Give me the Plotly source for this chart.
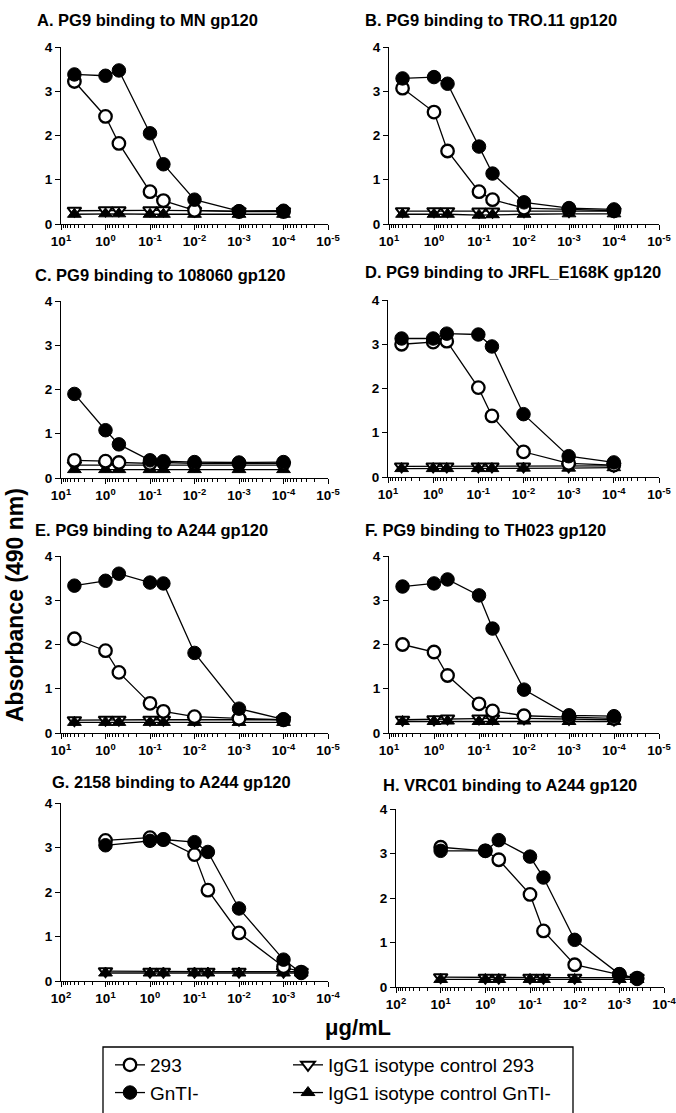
import plotly.graph_objects as go

W, H = 676, 1113

# ---- data ----
conc_AF = [5, 1, 0.5, 0.1, 0.05, 0.01, 0.001, 0.0001]
conc_GH = [10, 1, 0.5, 0.1, 0.05, 0.01, 0.001, 0.0004]

titles = [
    "A. PG9 binding to MN gp120",
    "B. PG9 binding to TRO.11 gp120",
    "C. PG9 binding to 108060 gp120",
    "D. PG9 binding to JRFL_E168K gp120",
    "E. PG9 binding to A244 gp120",
    "F. PG9 binding to TH023 gp120",
    "G. 2158 binding to A244 gp120",
    "H. VRC01 binding to A244 gp120",
]

s293_A = [3.22, 2.43, 1.82, 0.73, 0.53, 0.31, 0.28, 0.28]
gnt_A = [3.38, 3.35, 3.47, 2.05, 1.35, 0.55, 0.29, 0.30]
iso293_A = [0.30, 0.31, 0.31, 0.31, 0.31, 0.30, 0.29, 0.29]
isognt_A = [0.22, 0.23, 0.23, 0.22, 0.22, 0.22, 0.22, 0.22]

s293_B = [3.07, 2.53, 1.65, 0.73, 0.55, 0.36, 0.33, 0.30]
gnt_B = [3.29, 3.32, 3.17, 1.75, 1.14, 0.49, 0.36, 0.33]
iso293_B = [0.29, 0.29, 0.29, 0.28, 0.28, 0.29, 0.29, 0.29]
isognt_B = [0.22, 0.22, 0.22, 0.20, 0.21, 0.22, 0.23, 0.23]

s293_C = [0.40, 0.38, 0.35, 0.33, 0.35, 0.33, 0.33, 0.33]
gnt_C = [1.90, 1.08, 0.76, 0.40, 0.38, 0.36, 0.35, 0.36]
iso293_C = [0.29, 0.29, 0.29, 0.29, 0.29, 0.29, 0.29, 0.29]
isognt_C = [0.19, 0.19, 0.19, 0.19, 0.19, 0.19, 0.19, 0.19]

s293_D = [3.00, 3.05, 3.07, 2.02, 1.38, 0.57, 0.31, 0.27]
gnt_D = [3.13, 3.13, 3.24, 3.22, 2.95, 1.42, 0.47, 0.33]
iso293_D = [0.24, 0.24, 0.24, 0.24, 0.24, 0.24, 0.24, 0.25]
isognt_D = [0.19, 0.19, 0.19, 0.19, 0.19, 0.20, 0.20, 0.21]

s293_E = [2.13, 1.86, 1.37, 0.67, 0.49, 0.37, 0.33, 0.30]
gnt_E = [3.33, 3.44, 3.60, 3.40, 3.38, 1.81, 0.55, 0.31]
iso293_E = [0.29, 0.30, 0.30, 0.30, 0.30, 0.30, 0.30, 0.30]
isognt_E = [0.24, 0.24, 0.24, 0.24, 0.24, 0.24, 0.24, 0.24]

s293_F = [2.00, 1.83, 1.30, 0.66, 0.50, 0.39, 0.36, 0.33]
gnt_F = [3.31, 3.38, 3.47, 3.11, 2.36, 0.98, 0.40, 0.38]
iso293_F = [0.30, 0.31, 0.33, 0.33, 0.33, 0.33, 0.32, 0.30]
isognt_F = [0.26, 0.26, 0.27, 0.26, 0.26, 0.27, 0.26, 0.26]

s293_G = [3.16, 3.22, 3.18, 2.84, 2.04, 1.08, 0.32, 0.20]
gnt_G = [3.05, 3.15, 3.18, 3.12, 2.90, 1.63, 0.48, 0.18]
iso293_G = [0.22, 0.21, 0.21, 0.21, 0.21, 0.21, 0.21, 0.21]
isognt_G = [0.18, 0.18, 0.18, 0.18, 0.18, 0.18, 0.18, 0.18]

s293_H = [3.14, 3.06, 2.86, 2.08, 1.26, 0.50, 0.28, 0.20]
gnt_H = [3.06, 3.06, 3.30, 2.93, 2.46, 1.06, 0.29, 0.18]
iso293_H = [0.22, 0.21, 0.21, 0.21, 0.21, 0.21, 0.21, 0.21]
isognt_H = [0.17, 0.17, 0.17, 0.17, 0.17, 0.17, 0.17, 0.17]

series_names = ["293", "GnTI-", "IgG1 isotype control 293", "IgG1 isotype control GnTI-"]

panels = [
    (conc_AF, s293_A, gnt_A, iso293_A, isognt_A),
    (conc_AF, s293_B, gnt_B, iso293_B, isognt_B),
    (conc_AF, s293_C, gnt_C, iso293_C, isognt_C),
    (conc_AF, s293_D, gnt_D, iso293_D, isognt_D),
    (conc_AF, s293_E, gnt_E, iso293_E, isognt_E),
    (conc_AF, s293_F, gnt_F, iso293_F, isognt_F),
    (conc_GH, s293_G, gnt_G, iso293_G, isognt_G),
    (conc_GH, s293_H, gnt_H, iso293_H, isognt_H),
]

y_ticks = [0, 1, 2, 3, 4]
x_exp_AF = [1, 0, -1, -2, -3, -4, -5]
x_exp_GH = [2, 1, 0, -1, -2, -3, -4]

# ---- layout geometry (pixels) ----
boxes = [
    (61, 328, 47, 224), (389, 659, 47, 224),
    (61, 328, 301, 478), (388, 659, 300, 477),
    (61, 328, 556, 733), (389, 659, 556, 733),
    (61, 328, 803, 981), (396, 664, 809, 987),
]
title_pos = [(35, 20), (363, 20), (33, 275), (363, 272),
             (33, 530), (363, 530), (50, 782), (381, 785)]

def px(x):
    return x / W

def py(y):
    return 1 - y / H

FONT = "Liberation Sans, Arial, sans-serif"

styles = [
    dict(symbol="circle", color="white", line=dict(color="black", width=2.3), size=12.5),
    dict(symbol="circle", color="black", line=dict(color="black", width=1), size=13.5),
    dict(symbol="triangle-down", color="white", line=dict(color="black", width=2), size=12),
    dict(symbol="triangle-up", color="black", line=dict(color="black", width=1), size=12),
]
draw_order = [2, 3, 0, 1]
legend_of = ["legend", "legend", "legend2", "legend2"]

fig = go.Figure()
annotations = []
for i, (xs, *ys) in enumerate(panels):
    ax = "" if i == 0 else str(i + 1)
    for k in draw_order:
        fig.add_trace(go.Scatter(
            x=xs, y=ys[k], mode="lines+markers",
            name=series_names[k],
            line=dict(color="black", width=1.3),
            marker=styles[k],
            xaxis="x" + ax, yaxis="y" + ax,
            showlegend=(i == 0),
            legend=legend_of[k],
            legendrank=k,
        ))
    x0, x1, y0, y1 = boxes[i]
    exps = x_exp_AF if i < 6 else x_exp_GH
    tickfont = dict(family=FONT, size=13.5, color="black", weight="bold")
    fig.layout["xaxis" + ax] = dict(
        domain=[px(x0), px(x1)], anchor="y" + ax, type="log",
        range=[exps[0], exps[-1]], automargin=False, ticklabeloverflow="allow",
        tickmode="array", tickvals=[10.0 ** e for e in exps],
        ticktext=["10<sup>%d</sup>" % e for e in exps],
        ticks="outside", ticklen=5, tickwidth=1.3, tickcolor="black",
        showline=True, linecolor="black", linewidth=1.3,
        showgrid=False, zeroline=False, tickfont=tickfont,
        minor=dict(ticks="outside", ticklen=3, tickwidth=1, tickcolor="black",
                   dtick="D1", showgrid=False),
    )
    fig.layout["yaxis" + ax] = dict(
        domain=[py(y1), py(y0)], anchor="x" + ax, range=[0, 4], automargin=False,
        ticklabeloverflow="allow",
        tickmode="array", tickvals=y_ticks, ticktext=[str(v) for v in y_ticks],
        ticks="outside", ticklen=5, tickwidth=1.3, tickcolor="black",
        showline=True, linecolor="black", linewidth=1.3,
        showgrid=False, zeroline=False, tickfont=tickfont,
    )
    tx, ty = title_pos[i]
    annotations.append(dict(
        text="<b>%s</b>" % titles[i], x=px(tx), y=py(ty), xref="paper", yref="paper",
        xanchor="left", yanchor="middle", showarrow=False,
        font=dict(family=FONT, size=16.5, color="black"),
    ))

annotations.append(dict(
    text="<b>Absorbance (490 nm)</b>", x=px(15), y=py(605), xref="paper", yref="paper",
    xanchor="center", yanchor="middle", textangle=-90, showarrow=False,
    font=dict(family=FONT, size=23, color="black"),
))
annotations.append(dict(
    text="<b>\u03bcg/mL</b>", x=px(358), y=py(1027), xref="paper", yref="paper",
    xanchor="center", yanchor="middle", showarrow=False,
    font=dict(family=FONT, size=22, color="black"),
))

legend_font = dict(family=FONT, size=19, color="black")
fig.update_layout(
    width=W, height=H,
    margin=dict(l=0, r=0, t=0, b=0, autoexpand=False),
    paper_bgcolor="white", plot_bgcolor="white",
    annotations=annotations,
    legend=dict(x=px(110), y=py(1046), xanchor="left", yanchor="top",
                font=legend_font, bgcolor="rgba(0,0,0,0)", tracegroupgap=0,
                itemwidth=30),
    legend2=dict(x=px(288), y=py(1046), xanchor="left", yanchor="top",
                 font=legend_font, bgcolor="rgba(0,0,0,0)", tracegroupgap=0,
                 itemwidth=30),
    shapes=[dict(type="rect", xref="paper", yref="paper",
                 x0=px(103), x1=px(573), y0=py(1116), y1=py(1047),
                 line=dict(color="black", width=1.3), fillcolor="rgba(0,0,0,0)")],
)

fig.write_html(
    "out.html",
    config={"displayModeBar": False},
    post_script="document.body.style.margin='0';document.body.style.padding='0';"
                "document.body.style.overflow='hidden';",
)
